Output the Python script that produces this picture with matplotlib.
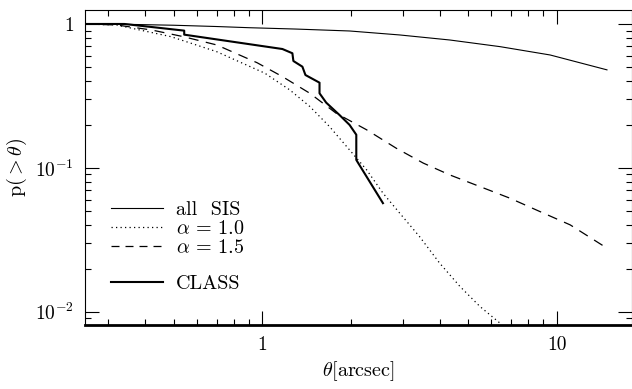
import matplotlib
matplotlib.use("Agg")
import matplotlib.pyplot as plt
from matplotlib.lines import Line2D

plt.rcParams["font.family"] = "serif"
plt.rcParams["font.serif"] = ["cmr10", "DejaVu Serif"]
plt.rcParams["mathtext.fontset"] = "cm"
plt.rcParams["axes.formatter.use_mathtext"] = True

# all SIS
x_sis = [0.25, 0.34, 0.5, 0.7, 0.903, 1.3, 1.978, 2.927, 4.33, 6.41, 9.49, 14.8]
p_sis = [1.0, 0.995, 0.98, 0.96, 0.942, 0.922, 0.894, 0.839, 0.774, 0.696,
         0.609, 0.48]

# alpha = 1.0 (dotted)
x_a10 = [0.25, 0.32, 0.49, 0.70, 1.02, 1.24, 1.45, 1.69, 1.98, 2.26, 2.57,
         2.93, 3.42, 4.0, 4.69, 5.48, 6.41]
p_a10 = [1.0, 0.984, 0.816, 0.642, 0.455, 0.348, 0.267, 0.194, 0.133, 0.097,
         0.0667, 0.0484, 0.0333, 0.0218, 0.015, 0.0109, 0.00835]

# alpha = 1.5 (dashed)
x_a15 = [0.25, 0.32, 0.42, 0.54, 0.70, 0.96, 1.17, 1.45, 1.78, 2.26, 2.85,
         3.52, 4.33, 5.48, 6.93, 8.77, 11.1, 14.8]
p_a15 = [1.0, 0.984, 0.909, 0.816, 0.715, 0.538, 0.431, 0.330, 0.240, 0.184,
         0.137, 0.108, 0.0894, 0.0742, 0.0616, 0.0497, 0.0402, 0.0277]

# CLASS
x_class = [0.25, 0.34, 0.543, 0.543, 1.17, 1.265, 1.275, 1.368, 1.401, 1.564,
           1.564, 1.648, 1.829, 1.978, 2.085, 2.085, 2.111, 2.568]
p_class = [1.0, 1.0, 0.899, 0.843, 0.670, 0.626, 0.553, 0.505, 0.442, 0.391,
           0.330, 0.284, 0.233, 0.199, 0.170, 0.1137, 0.109, 0.0569]

fig = plt.figure(figsize=(6.32, 3.89), dpi=100)
ax = fig.add_axes([0.1345, 0.1645, 0.8655, 0.811])

ax.plot(x_sis, p_sis, color="black", lw=0.8)
ax.plot(x_a10, p_a10, color="black", lw=0.9, linestyle=(0, (1, 2.6)))
ax.plot(x_a15, p_a15, color="black", lw=0.9, linestyle=(0, (8, 6)))
ax.plot(x_class, p_class, color="black", lw=1.5)

ax.set_xscale("log")
ax.set_yscale("log")
ax.set_xlim(0.25, 18)
ax.set_ylim(0.0081, 1.26)

ax.set_xticks([1, 10])
ax.set_xticklabels(["1", "10"])
ax.set_yticks([1, 0.1, 0.01])
ax.set_yticklabels(["1", r"$10^{-1}$", r"$10^{-2}$"])

ax.tick_params(which="both", direction="in", top=True, right=True,
               labelsize=14, width=0.8)
ax.tick_params(which="major", length=10, pad=8)
ax.tick_params(which="minor", length=4.5)
for s in ["top", "left", "right"]:
    ax.spines[s].set_linewidth(0.8)
ax.spines["bottom"].set_linewidth(2)

ax.set_xlabel(r"$\theta$[arcsec]", fontsize=14.5)
ax.set_ylabel(r"p$(>\theta)$", fontsize=14.5)

h1 = [Line2D([], [], color="black", lw=0.8),
      Line2D([], [], color="black", lw=0.9, linestyle=(0, (1, 2.6))),
      Line2D([], [], color="black", lw=0.9, linestyle=(0, (6.4, 4.8)))]
leg1 = ax.legend(h1, ["all  SIS", r"$\alpha\,{=}\,1.0$", r"$\alpha\,{=}\,1.5$"],
                 loc="upper left", bbox_to_anchor=(0.047, 0.393), frameon=False,
                 fontsize=14.5, handlelength=2.58, handletextpad=0.65,
                 labelspacing=0.05, borderpad=0, borderaxespad=0)
ax.add_artist(leg1)
h2 = [Line2D([], [], color="black", lw=1.5)]
ax.legend(h2, ["CLASS"], loc="upper left", bbox_to_anchor=(0.047, 0.158),
          frameon=False, fontsize=14.5, handlelength=2.58, handletextpad=0.65,
          borderpad=0, borderaxespad=0)

fig.savefig("out.png", dpi=100)
